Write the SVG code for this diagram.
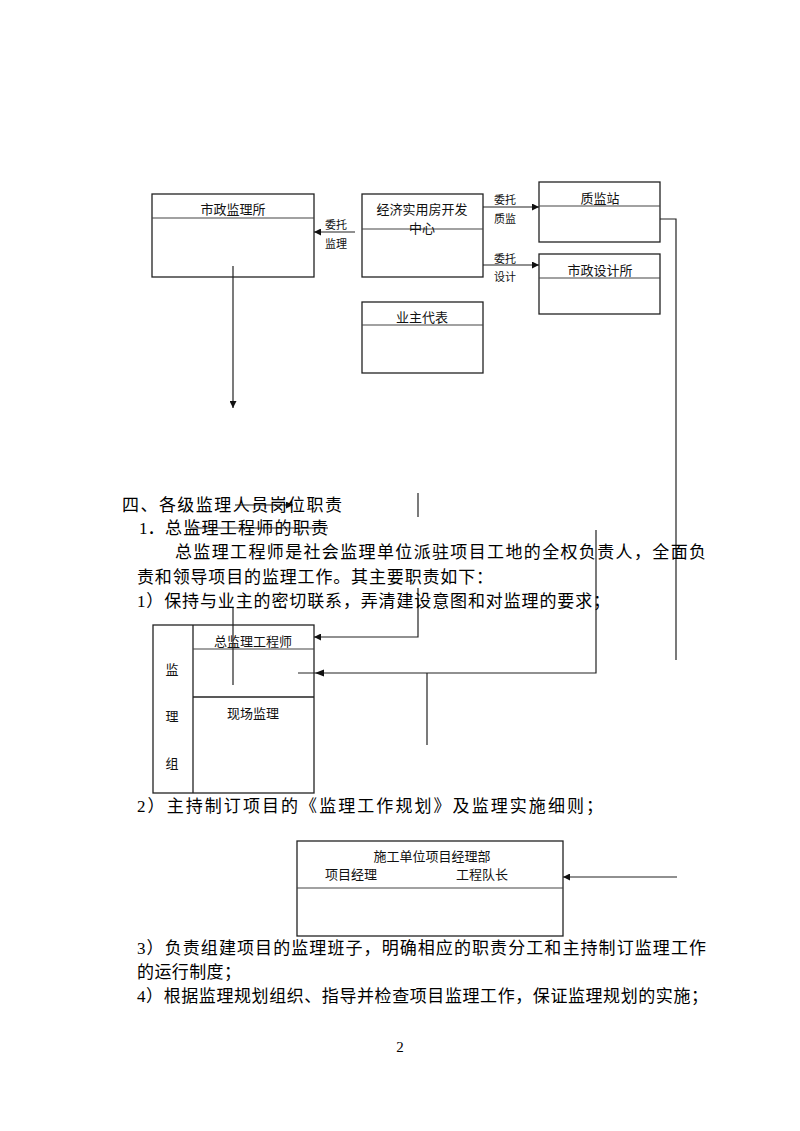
<svg xmlns="http://www.w3.org/2000/svg" width="800" height="1131" viewBox="0 0 800 1131">
<style>
.box{fill:none;stroke:#222;stroke-width:1.3}
.dv{stroke:#444;stroke-width:1.1}
.t{font-family:"Noto Sans CJK SC",sans-serif;font-size:13px;fill:#111;text-anchor:middle;dominant-baseline:central}
.s{font-size:11px}
.b{font-family:"Liberation Serif","Noto Sans CJK SC",serif;font-size:17px;fill:#000;dominant-baseline:central}
.ln{fill:none;stroke:#222;stroke-width:1.2}
</style>
<defs>
<marker id="ah" viewBox="0 0 10 10" refX="10" refY="5" markerWidth="9" markerHeight="7" markerUnits="userSpaceOnUse" orient="auto">
<path d="M0,0 L10,5 L0,10 z" fill="#111"/>
</marker>
</defs>
<rect width="800" height="1131" fill="#fff"/>

<g id="shizheng-jianlisuo">
<rect class="box" x="152" y="194" width="162" height="83"/>
<line class="dv" x1="152" y1="218" x2="314" y2="218"/>
<text class="t" x="233" y="208">市政监理所</text>
</g>
<g id="jingji-zhongxin">
<rect class="box" x="362" y="194" width="121" height="83"/>
<line class="dv" x1="362" y1="229" x2="483" y2="229"/>
<text class="t" x="422" y="208">经济实用房开发</text>
<text class="t" x="422" y="227">中心</text>
</g>
<g id="zhijianzhan">
<rect class="box" x="539" y="182" width="121" height="60"/>
<line class="dv" x1="539" y1="206" x2="660" y2="206"/>
<text class="t" x="600" y="197">质监站</text>
</g>
<g id="shizheng-shejisuo">
<rect class="box" x="539" y="254" width="121" height="60"/>
<line class="dv" x1="539" y1="278" x2="660" y2="278"/>
<text class="t" x="600" y="269">市政设计所</text>
</g>
<g id="yezhu-daibiao">
<rect class="box" x="362" y="302" width="121" height="71"/>
<line class="dv" x1="362" y1="325" x2="483" y2="325"/>
<text class="t" x="422" y="316">业主代表</text>
</g>
<g id="jianlizu">
<rect class="box" x="153" y="625" width="161" height="168"/>
<line class="box" x1="193" y1="625" x2="193" y2="793"/>
<line class="dv" x1="193" y1="649" x2="314" y2="649"/>
<line class="box" x1="193" y1="697" x2="314" y2="697"/>
<text class="t" x="253" y="640">总监理工程师</text>
<text class="t" x="253" y="712">现场监理</text>
<text class="t" x="172" y="668">监</text>
<text class="t" x="172" y="715">理</text>
<text class="t" x="172" y="762">组</text>
</g>
<g id="shigong-danwei">
<rect class="box" x="297" y="841" width="266" height="95"/>
<line class="dv" x1="297" y1="888" x2="563" y2="888"/>
<text class="t" x="432" y="855">施工单位项目经理部</text>
<text class="t" x="351" y="873">项目经理</text>
<text class="t" x="482" y="873">工程队长</text>
</g>

<g id="connectors">
<path class="ln" d="M355,232 H314" marker-end="url(#ah)"/>
<path class="ln" d="M483,207 H539" marker-end="url(#ah)"/>
<path class="ln" d="M483,265 H539" marker-end="url(#ah)"/>
<path class="ln" d="M233,266 V408" marker-end="url(#ah)"/>
<path class="ln" d="M660,219 H676 V660"/>
<path class="ln" d="M418,493 V517"/>
<path class="ln" d="M418,588 V637 H314" marker-end="url(#ah)"/>
<path class="ln" d="M596,530 V673 H298"/>
<polygon points="315,673 324,669.5 324,676.5" fill="#111"/>
<path class="ln" d="M233,607 V685"/>
<path class="ln" d="M427,673 V745"/>
<path class="ln" d="M677,877 H563" marker-end="url(#ah)"/>
<path class="ln" d="M235,505 H293" marker-end="url(#ah)"/>
<path class="ln" d="M190,528 H328"/>
<text class="t s" x="336" y="224">委托</text>
<text class="t s" x="336" y="243">监理</text>
<text class="t s" x="505" y="199">委托</text>
<text class="t s" x="505" y="218">质监</text>
<text class="t s" x="505" y="258">委托</text>
<text class="t s" x="505" y="276">设计</text>
</g>

<g id="body-text">
<text class="b" x="122" y="505" textLength="220" lengthAdjust="spacing">四、各级监理人员岗位职责</text>
<text class="b" x="139" y="528">1．</text>
<text class="b" x="165" y="528" textLength="163" lengthAdjust="spacing">总监理工程师的职责</text>
<text class="b" x="175" y="552" textLength="531" lengthAdjust="spacing">总监理工程师是社会监理单位派驻项目工地的全权负责人，全面负</text>
<text class="b" x="137" y="577" textLength="356" lengthAdjust="spacing">责和领导项目的监理工作。其主要职责如下：</text>
<text class="b" x="137" y="601" textLength="473" lengthAdjust="spacing">1）保持与业主的密切联系，弄清建设意图和对监理的要求；</text>
<text class="b" x="137" y="806" textLength="466" lengthAdjust="spacing">2）主持制订项目的《监理工作规划》及监理实施细则；</text>
<text class="b" x="137" y="948" textLength="569" lengthAdjust="spacing">3）负责组建项目的监理班子，明确相应的职责分工和主持制订监理工作</text>
<text class="b" x="137" y="972" textLength="104" lengthAdjust="spacing">的运行制度；</text>
<text class="b" x="137" y="996" textLength="571" lengthAdjust="spacing">4）根据监理规划组织、指导并检查项目监理工作，保证监理规划的实施；</text>
<text class="b" x="400" y="1047" text-anchor="middle" style="font-size:15px">2</text>
</g>
</svg>
